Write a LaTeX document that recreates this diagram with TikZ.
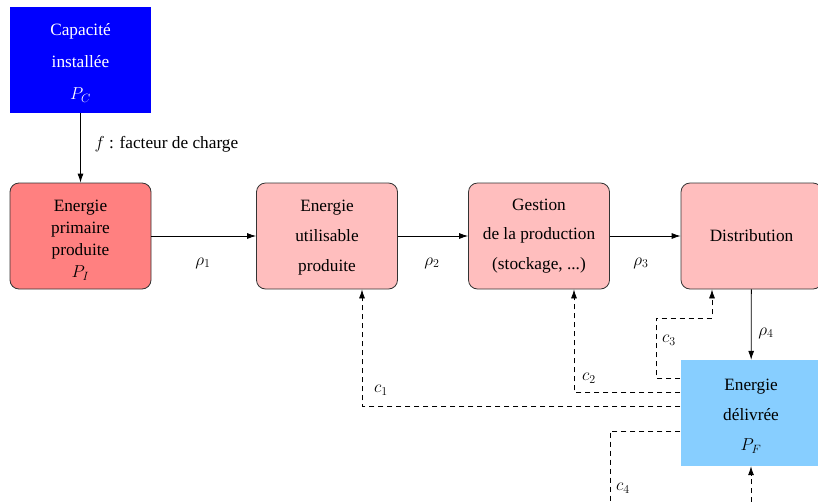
\documentclass[tikz,border=0pt]{standalone}
\usepackage{fontspec}
\setmainfont{Liberation Serif}
\usetikzlibrary{arrows.meta}
\definecolor{primred}{RGB}{255,128,128}
\definecolor{lightred}{RGB}{255,190,190}
\definecolor{skyb}{RGB}{135,206,255}
\definecolor{capblue}{RGB}{0,0,255}
% invisible strut that pushes a centred block of lines downwards
\newcommand{\toppad}[1]{\rule{0pt}{#1}}
\begin{document}
\begin{tikzpicture}[x=1pt,y=-1pt,
  every node/.style={font=\LARGE},
  box/.style={minimum width=141pt,minimum height=106pt,inner sep=0pt,align=center},
  stage/.style={box,draw=black!80,line width=0.8pt,rounded corners=9pt,fill=lightred},
  arr/.style={line width=0.8pt,-{Latex[length=9pt,width=6pt]}},
  darr/.style={arr,dash pattern=on 5pt off 4pt}]
\useasboundingbox (0,0) rectangle (818,501);
\clip (0,0) rectangle (818,501);

% boxes
\node[box,fill=capblue,text=white] (cap) at (80.5,60)
  {\toppad{18.5pt}Capacit\'e\\[10pt]install\'ee\\[10pt]$P_C$};
\node[stage,fill=primred] (prim) at (80.5,236)
  {\toppad{19.5pt}Energie\\primaire\\produite\\$P_I$};
\node[stage] (util) at (327,236)
  {\toppad{14.5pt}Energie\\[8pt]utilisable\\[8pt]produite};
\node[stage] (gest) at (539,236)
  {Gestion\\[7pt]de la production\\[8pt](stockage, ...)};
\node[stage] (dist) at (751.5,236) {Distribution};
\node[box,fill=skyb] (deliv) at (751,413)
  {\toppad{17.5pt}Energie\\[8pt]d\'elivr\'ee\\[8pt]$P_F$};

% solid flows
\draw[arr] (cap) -- (prim);
\draw[arr] (prim) -- (util);
\draw[arr] (util) -- (gest);
\draw[arr] (gest) -- (dist);
\draw[arr] (dist) -- (deliv);

\node[anchor=west] (flab) at (91,144) {$f$ : facteur de charge};
\node (r1) at (203,263) {$\rho_1$};
\node (r2) at (432,263) {$\rho_2$};
\node (r3) at (641,263) {$\rho_3$};
\node (r4) at (766,333) {$\rho_4$};

% feedback (dashed)
\coordinate (c3bend) at (656,318);
\coordinate (c4end) at (610,520);
\coordinate (inend) at (751,520);
\draw[darr] ([yshift=7pt]deliv.west) -| ([xshift=35pt]util.south);
\draw[darr] ([yshift=21pt]deliv.west) -| ([xshift=35pt]gest.south);
\draw[darr] ([yshift=35pt]deliv.west) -| (c3bend) -| ([xshift=-39.5pt]dist.south);
\draw[dash pattern=on 5pt off 4pt,line width=0.8pt] ([yshift=-18pt]deliv.west) -| (c4end);
\draw[darr] (inend) -- (deliv.south);

\node (c1) at (381,390) {$c_1$};
\node (c2) at (589,378) {$c_2$};
\node (c3) at (669,340) {$c_3$};
\node (c4) at (623,488) {$c_4$};
\end{tikzpicture}
\end{document}
